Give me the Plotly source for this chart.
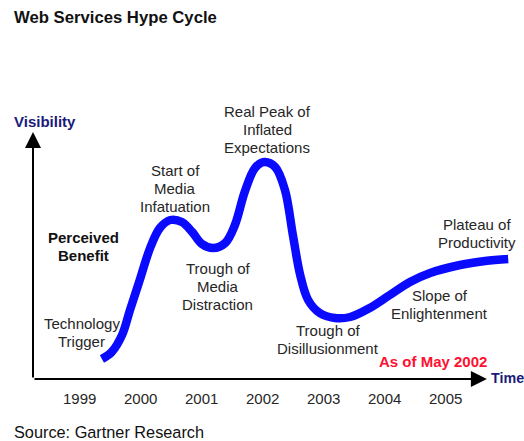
import plotly.graph_objects as go

# Hype curve (x in years, y in visibility units)
curve_years = [1999.36, 1999.52, 1999.69, 1999.82, 1999.98, 2000.15, 2000.31, 2000.48,
               2000.67, 2000.84, 2001.00, 2001.18, 2001.38, 2001.54, 2001.70, 2001.87,
               2002.02, 2002.20, 2002.36, 2002.49, 2002.61, 2002.74, 2002.93, 2003.18,
               2003.43, 2003.75, 2004.08, 2004.41, 2004.74, 2005.23, 2005.64, 2006.02]
curve_vis = [8.0, 10.8, 17.6, 27.6, 39.6, 52.4, 60.4, 63.6,
             62.8, 58.8, 54.0, 52.4, 54.4, 61.6, 74.8, 84.4,
             86.8, 84.8, 75.6, 57.6, 41.6, 31.6, 26.4, 24.4,
             24.8, 28.4, 33.6, 38.8, 42.4, 45.6, 47.2, 48.0]

year_labels = ["1999", "2000", "2001", "2002", "2003", "2004", "2005"]
year_values = [1999, 2000, 2001, 2002, 2003, 2004, 2005]

phase_labels = [["Technology", "Trigger"], ["Start of", "Media", "Infatuation"],
                ["Trough of", "Media", "Distraction"], ["Real Peak of", "Inflated", "Expectations"],
                ["Trough of", "Disillusionment"], ["Slope of", "Enlightenment"],
                ["Plateau of", "Productivity"]]
phase_x = [1999.03, 2000.56, 2001.26, 2002.07, 2003.07, 2004.90, 2005.51]
phase_y = [18.6, 76.4, 37.2, 100.0, 15.8, 30.0, 58.2]

FONT = "Arial, Liberation Sans, sans-serif"
TXT = "#262626"
NAVY = "#1a1a7a"
LINE_STEP = 7.2  # vertical spacing between text lines, in y units

fig = go.Figure()
fig.add_trace(go.Scatter(x=curve_years, y=curve_vis, mode="lines",
                         line=dict(color="#0a0aff", width=8.5, shape="spline", smoothing=1.0),
                         hoverinfo="skip", showlegend=False))

ann = []
# axes with arrows
ann.append(dict(x=2005.67, y=0, ax=1998.23, ay=0, xref="x", yref="y", axref="x", ayref="y",
                showarrow=True, arrowhead=2, arrowwidth=2, arrowsize=1.6, arrowcolor="black", text=""))
ann.append(dict(x=1998.23, y=98.8, ax=1998.23, ay=0, xref="x", yref="y", axref="x", ayref="y",
                showarrow=True, arrowhead=2, arrowwidth=2, arrowsize=1.6, arrowcolor="black", text=""))

for t, xv in zip(year_labels, year_values):
    ann.append(dict(x=xv, y=-7.6, xref="x", yref="y", text=t, showarrow=False,
                    font=dict(family=FONT, size=15, color=TXT)))


def add_block(lines, xc, yc, fmt="{}", color=TXT, size=15):
    n = len(lines)
    for i, ln in enumerate(lines):
        yy = yc + ((n - 1) / 2 - i) * LINE_STEP
        ann.append(dict(x=xc, y=yy, xref="x", yref="y", text=fmt.format(ln), showarrow=False,
                        font=dict(family=FONT, size=size, color=color)))


for lines, xv, yv in zip(phase_labels, phase_x, phase_y):
    add_block(lines, xv, yv)

add_block(["Perceived", "Benefit"], 1999.05, 53.2, fmt="<b>{}</b>", color="#111111")
ann.append(dict(x=2004.79, y=7.2, xref="x", yref="y", text="<b>As of May 2002</b>",
                showarrow=False, font=dict(family=FONT, size=15, color="#ff1030")))
ann.append(dict(x=2005.70, y=0.4, xref="x", yref="y", text="<b>Time</b>", xanchor="left",
                showarrow=False, font=dict(family=FONT, size=14.3, color=NAVY)))
ann.append(dict(x=1997.885, y=103.2, xref="x", yref="y", text="<b>Visibility</b>", xanchor="left",
                showarrow=False, font=dict(family=FONT, size=15, color=NAVY)))
ann.append(dict(x=12/524, y=1-17/441, xref="paper", yref="paper", text="<b>Web Services Hype Cycle</b>",
                xanchor="left", yanchor="middle", showarrow=False,
                font=dict(family=FONT, size=16.7, color="#111111")))
ann.append(dict(x=12/524, y=1-432/441, xref="paper", yref="paper", text="Source: Gartner Research",
                xanchor="left", yanchor="middle", showarrow=False,
                font=dict(family=FONT, size=16.3, color="#111111")))

fig.update_layout(
    width=524, height=441,
    margin=dict(l=0, r=0, t=0, b=0),
    paper_bgcolor="white", plot_bgcolor="white",
    xaxis=dict(range=[1997.689, 2006.279], visible=False, fixedrange=True),
    yaxis=dict(range=[-24.8, 151.6], visible=False, fixedrange=True),
    annotations=ann,
    showlegend=False,
)

fig.write_html("out.html", config={"displayModeBar": False},
               post_script="document.body.style.margin='0';document.body.style.overflow='hidden';")
